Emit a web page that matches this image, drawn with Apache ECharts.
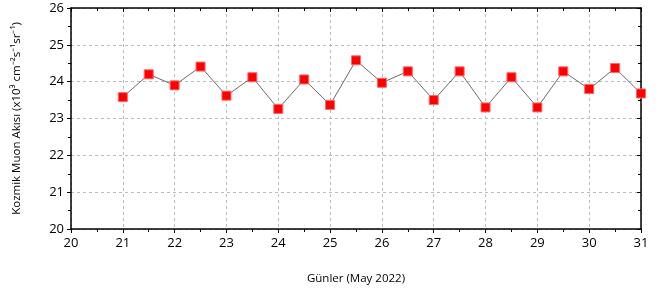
<!DOCTYPE html>
<html><head><meta charset="utf-8">
<script src="https://cdn.jsdelivr.net/npm/echarts@6/dist/echarts.min.js"></script>
<style>html,body{margin:0;padding:0;background:#fff}#c{width:670px;height:296px}</style>
</head><body><div id="c"></div>
<script>
const days = [21,21.5,22,22.5,23,23.5,24,24.5,25,25.5,26,26.5,27,27.5,28,28.5,29,29.5,30,30.5,31];
const flux = [23.58,24.20,23.90,24.41,23.62,24.12,23.26,24.06,23.37,24.58,23.97,24.28,23.50,24.28,23.30,24.12,23.30,24.28,23.80,24.37,23.68];
const xTicks = [20,31,1];
const yTicks = [20,26,1];
const xName = 'Günler (May 2022)';
const yName = 'Kozmik Muon Akısı (x10³ cm⁻²s⁻¹sr⁻¹)';

const font = 'Open Sans';
const chart = echarts.init(document.getElementById('c'));
const axisLine = {show:true, lineStyle:{color:'#000', width:1.5}};
const split = {show:true, lineStyle:{color:'#bbb', type:[3,3], width:1}};
chart.setOption({
  animation:false,
  grid:{left:71, right:29, top:8, bottom:67},
  xAxis:[{
    type:'value', min:xTicks[0], max:xTicks[1], interval:xTicks[2],
    axisLine:axisLine, axisTick:{show:true, length:4, lineStyle:{color:'#000'}},
    minorTick:{show:true, splitNumber:2, length:3, lineStyle:{color:'#000'}},
    axisLabel:{fontFamily:font, fontSize:13, color:'#000', margin:8},
    splitLine:split,
    name:xName, nameLocation:'middle', nameGap:44,
    nameTextStyle:{fontFamily:font, fontSize:11.5, color:'#000'}
  },{
    type:'value', position:'top', min:xTicks[0], max:xTicks[1], interval:xTicks[2],
    axisLine:axisLine, axisTick:{show:true, inside:true, length:4, lineStyle:{color:'#000'}},
    minorTick:{show:true, splitNumber:2, length:3, lineStyle:{color:'#000'}},
    axisLabel:{show:false}, splitLine:{show:false}
  }],
  yAxis:[{
    type:'value', min:yTicks[0], max:yTicks[1], interval:yTicks[2],
    axisLine:axisLine, axisTick:{show:true, length:4, lineStyle:{color:'#000'}},
    minorTick:{show:true, splitNumber:2, length:3, lineStyle:{color:'#000'}},
    axisLabel:{fontFamily:font, fontSize:13, color:'#000', margin:7},
    splitLine:split,
    name:yName, nameLocation:'middle', nameGap:48,
    nameTextStyle:{fontFamily:font, fontSize:11.5, color:'#000'}
  },{
    type:'value', position:'right', min:yTicks[0], max:yTicks[1], interval:yTicks[2],
    axisLine:axisLine, axisTick:{show:true, inside:true, length:4, lineStyle:{color:'#000'}},
    minorTick:{show:true, splitNumber:2, length:3, lineStyle:{color:'#000'}},
    axisLabel:{show:false}, splitLine:{show:false}
  }],
  series:[{
    type:'line', xAxisIndex:0, yAxisIndex:0,
    data: days.map((d,i)=>[d, flux[i]]),
    symbol:'rect', symbolSize:9,
    itemStyle:{color:'#ff0000', borderColor:'#ff6666', borderWidth:1},
    lineStyle:{color:'#444', width:0.8},
    clip:false
  }]
});
</script></body></html>
